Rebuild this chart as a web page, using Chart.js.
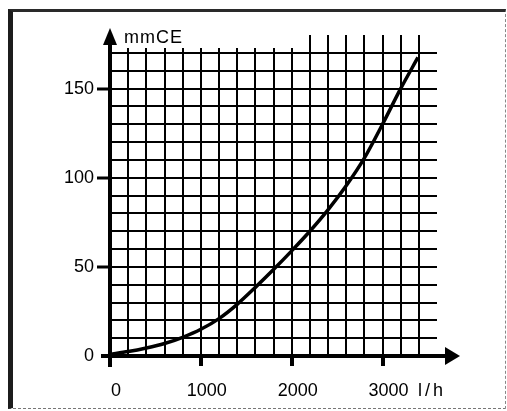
<!DOCTYPE html>
<html>
<head>
<meta charset="utf-8">
<script src="https://cdn.jsdelivr.net/npm/chart.js@4"></script>
<style>
  html, body { margin: 0; padding: 0; background: #fff; }
  #wrap { position: relative; width: 507px; height: 411px; overflow: hidden; background: #fff; }
  #c { position: absolute; left: 0; top: 0; }
  #frame {
    position: absolute; left: 8px; top: 9px; width: 498px; height: 400px; box-sizing: border-box;
    border-left: 5px solid #1c1c1c; border-top: 3px solid #2a2a2a;
    border-right: 1px dashed #888; border-bottom: 1px dashed #777;
    pointer-events: none;
  }
</style>
</head>
<body>
<div id="wrap">
  <canvas id="c" width="507" height="411"></canvas>
  <div id="frame"></div>
</div>
<script>
// Flow rate (l/h) and pressure head (mmCE)
const flowValues = [0, 200, 400, 600, 800, 1000, 1200, 1400, 1600, 1800, 2000, 2200, 2400, 2600, 2800, 3000, 3200, 3390];
const headValues = [1, 2.5, 4.5, 7, 10.5, 15, 21, 29, 38.5, 48.5, 59, 70, 82, 95.5, 111, 130, 150, 167.5];
const xTickLabels = [0, 1000, 2000, 3000];
const yTickLabels = [0, 50, 100, 150];
const xUnit = 'l/h';
const yUnit = 'mmCE';

const points = flowValues.map((x, i) => ({ x: x, y: headValues[i] }));

const axisPlugin = {
  id: 'axisArrows',
  afterDraw(chart) {
    const ctx = chart.ctx;
    const xs = chart.scales.x, ys = chart.scales.y;
    const area = chart.chartArea;
    const x0 = xs.getPixelForValue(0);
    const y0 = ys.getPixelForValue(0);
    ctx.save();
    // vertical grid line overshoot above the top grid line
    ctx.strokeStyle = '#000';
    ctx.lineWidth = 2;
    xs.ticks.forEach(t => {
      if (t.value <= 0 || t.value > 3400) return;
      const px = Math.round(xs.getPixelForValue(t.value));
      ctx.beginPath();
      ctx.moveTo(px, area.top);
      ctx.lineTo(px, area.top - (t.value >= 2200 ? 18 : 5));
      ctx.stroke();
    });
    // y axis
    ctx.lineWidth = 4;
    ctx.lineCap = 'butt';
    ctx.beginPath();
    ctx.moveTo(x0, y0 + 11);
    ctx.lineTo(x0, area.top - 10);
    ctx.stroke();
    ctx.fillStyle = '#000';
    ctx.beginPath();
    ctx.moveTo(x0, area.top - 25);
    ctx.lineTo(x0 - 7, area.top - 8);
    ctx.lineTo(x0 + 7, area.top - 8);
    ctx.closePath();
    ctx.fill();
    // x axis
    ctx.beginPath();
    ctx.moveTo(x0 - 9, y0);
    ctx.lineTo(area.right + 10, y0);
    ctx.stroke();
    ctx.beginPath();
    ctx.moveTo(area.right + 23, y0);
    ctx.lineTo(area.right + 8, y0 - 9);
    ctx.lineTo(area.right + 8, y0 + 9);
    ctx.closePath();
    ctx.fill();
    // unit labels
    ctx.font = '18px "Liberation Sans"';
    ctx.textBaseline = 'middle';
    ctx.textAlign = 'left';
    try { ctx.letterSpacing = '1px'; } catch (e) {}
    ctx.fillText(yUnit, x0 + 14, area.top - 15);
    ctx.font = '18px "Liberation Sans"';
    try { ctx.letterSpacing = '3px'; } catch (e) {}
    ctx.fillText(xUnit, area.right - 19, y0 + 35);
    ctx.restore();
  }
};

new Chart(document.getElementById('c'), {
  type: 'line',
  data: {
    datasets: [{
      data: points,
      borderColor: '#000',
      borderWidth: 3.5,
      pointRadius: 0,
      fill: false,
      tension: 0.3
    }]
  },
  options: {
    responsive: false,
    animation: false,
    devicePixelRatio: 1,
    layout: { padding: { top: 53, right: 70, left: 0, bottom: 0 } },
    plugins: { legend: { display: false }, tooltip: { enabled: false } },
    scales: {
      x: {
        type: 'linear', min: 0, max: 3600,
        afterFit(s) { s.height = 55; },
        border: { display: false },
        grid: {
          color: c => (c.tick && c.tick.value > 0 && c.tick.value <= 3400) ? '#000' : 'rgba(0,0,0,0)',
          lineWidth: 2,
          drawTicks: true,
          tickLength: 10,
          tickWidth: 4,
          tickColor: c => (c.tick && c.tick.value > 0 && xTickLabels.includes(c.tick.value)) ? '#000' : 'rgba(0,0,0,0)'
        },
        ticks: {
          stepSize: 200, autoSkip: false, maxRotation: 0,
          color: '#000', font: { family: 'Liberation Sans', size: 18 },
          labelOffset: 6, padding: 14,
          callback: v => xTickLabels.includes(v) ? String(v) : ''
        }
      },
      y: {
        type: 'linear', min: 0, max: 170,
        afterFit(s) { s.width = 110; },
        border: { display: false },
        grid: {
          color: c => (c.tick && c.tick.value > 0) ? '#000' : 'rgba(0,0,0,0)',
          lineWidth: 2,
          drawTicks: true,
          tickLength: 13,
          tickWidth: 3,
          tickColor: c => (c.tick && c.tick.value > 0 && yTickLabels.includes(c.tick.value)) ? '#000' : 'rgba(0,0,0,0)'
        },
        ticks: {
          stepSize: 10, autoSkip: false,
          color: '#000', font: { family: 'Liberation Sans', size: 18 },
          padding: 3,
          callback: v => yTickLabels.includes(v) ? String(v) : ''
        }
      }
    }
  },
  plugins: [axisPlugin]
});
</script>
</body>
</html>
